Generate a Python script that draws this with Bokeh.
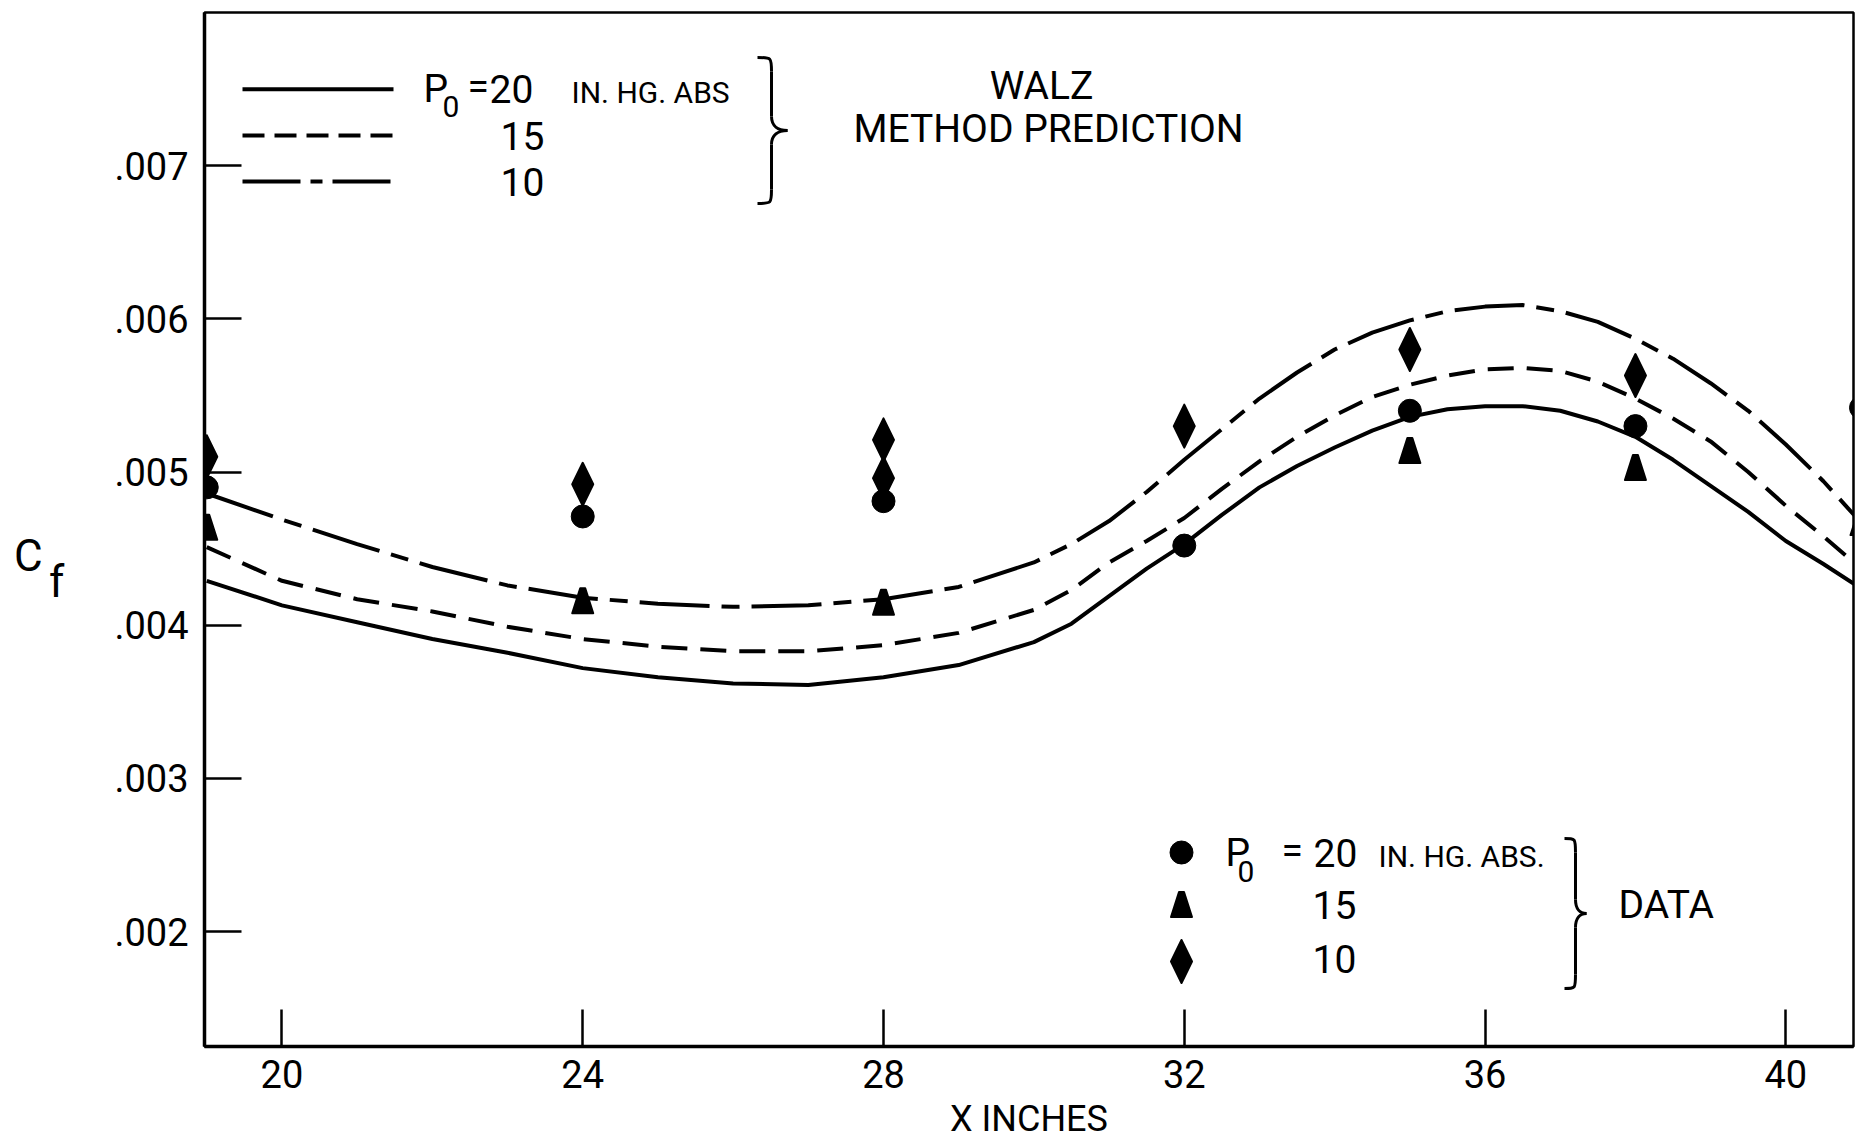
from bokeh.plotting import figure
from bokeh.models import Label, FixedTicker, CustomJSTickFormatter, Range1d
from bokeh.embed import file_html
from bokeh.resources import INLINE

# ---------------- data ----------------
x_curve = [19, 20, 21, 22, 23, 24, 25, 26, 27, 28, 29, 30, 30.5, 31, 31.5, 32, 32.5, 33, 33.5, 34, 34.5,
           35, 35.5, 36, 36.5, 37, 37.5, 38, 38.5, 39, 39.5, 40, 40.5, 41]
walz_20 = [.00429, .00413, .00402, .00391, .00382, .00372, .00366, .00362, .00361, .00366, .00374, .00389,
           .00401, .00419, .00437, .00453, .00472, .00490, .00504, .00516, .00527,
           .00536, .00541, .00543, .00543, .00540, .00533, .00523, .00508, .00491, .00474, .00455, .00440, .00424]
walz_15 = [.00451, .00429, .00417, .00409, .00399, .00391, .00386, .00383, .00383, .00387, .00395, .00410,
           .00423, .00441, .00455, .00470, .00489, .00507, .00523, .00537, .00549,
           .00557, .00563, .00567, .00568, .00566, .00559, .00548, .00535, .00520, .00500, .00478, .00458, .00437]
walz_10 = [.00486, .00469, .00453, .00438, .00426, .00418, .00414, .00412, .00413, .00417, .00425, .00441,
           .00453, .00468, .00487, .00508, .00528, .00548, .00565, .00580, .00591,
           .00599, .00605, .00608, .00609, .00605, .00598, .00587, .00574, .00558, .00540, .00518, .00494, .00467]

x_data_20 = [19, 24, 28, 32, 35, 38, 41]
cf_data_20 = [.00490, .00471, .00481, .00452, .00540, .00530, .00542]
x_data_15 = [19, 24, 28, 35, 38, 41]
cf_data_15 = [.00464, .00416, .00415, .00514, .00503, .00467]
x_data_10 = [19, 24, 28, 28, 32, 35, 38]
cf_data_10 = [.00510, .00492, .00521, .00496, .00530, .00580, .00563]

x_ticks = [20, 24, 28, 32, 36, 40]
y_ticks = [.002, .003, .004, .005, .006, .007]

# ---------------- layout ----------------
X0, X1 = 18.97, 40.9
Y0, Y1 = 0.00125, 0.008
FW, FH = 1649, 1034
L, T = 204, 12
FONT = "Roboto"


def X(px):
    return X0 + (px - L) * (X1 - X0) / FW


def Y(py):
    return Y1 - (py - T) * (Y1 - Y0) / FH


def dX(d):
    return d * (X1 - X0) / FW


def dY(d):
    return d * (Y1 - Y0) / FH


p = figure(width=1855, height=1144, min_border_left=L, min_border_right=2,
           min_border_top=T, min_border_bottom=1144 - T - FH,
           x_range=Range1d(X0, X1), y_range=Range1d(Y0, Y1),
           output_backend="svg", toolbar_location=None)
p.background_fill_color = "white"
p.border_fill_color = "white"
p.outline_line_color = "black"
p.outline_line_width = 2.5
p.xgrid.visible = False
p.ygrid.visible = False

for ax in (p.xaxis[0], p.yaxis[0]):
    ax.axis_line_color = "black"
    ax.axis_line_width = 3.5
    ax.major_tick_in = 37
    ax.major_tick_out = 0
    ax.major_tick_line_width = 2.5
    ax.major_tick_line_color = "black"
    ax.minor_tick_line_color = None
    ax.major_label_text_font = FONT
    ax.major_label_text_font_size = "38px"
    ax.major_label_text_color = "black"
    ax.axis_label_text_font = FONT
    ax.axis_label_text_font_style = "normal"
    ax.axis_label_text_color = "black"

xa = p.xaxis[0]
xa.ticker = FixedTicker(ticks=x_ticks)
xa.major_label_standoff = 13
xa.axis_label = "X INCHES"
xa.axis_label_text_font_size = "36px"
xa.axis_label_standoff = 7

ya = p.yaxis[0]
ya.ticker = FixedTicker(ticks=y_ticks)
ya.major_label_standoff = 16
ya.formatter = CustomJSTickFormatter(code="return tick.toFixed(3).substring(1);")
NB = "\u00a0"
ya.axis_label = "\n".join([NB, NB, NB, "C" + NB * 2, NB * 2 + "f"])
ya.axis_label_text_font_size = "44px"
ya.axis_label_text_line_height = 0.5
ya.axis_label_standoff = 47
try:
    ya.axis_label_orientation = "horizontal"
except Exception:
    pass

# ---------------- Walz curves ----------------
CURVE_W = 4
p.line(x_curve, walz_20, line_color="black", line_width=CURVE_W)
p.line(x_curve, walz_15, line_color="black", line_width=CURVE_W, line_dash="26 13")
p.line(x_curve, walz_10, line_color="black", line_width=CURVE_W, line_dash="70 12 18 12")


# ---------------- data markers ----------------
def tri_shapes(xs, ys):
    out_x, out_y = [], []
    for x, y in zip(xs, ys):
        out_x.append([x - dX(10.5), x + dX(10.5), x + dX(2.5), x - dX(2.5)])
        out_y.append([y - dY(12.5), y - dY(12.5), y + dY(12.5), y + dY(12.5)])
    return out_x, out_y


def dia_shapes(xs, ys):
    out_x, out_y = [], []
    for x, y in zip(xs, ys):
        out_x.append([x, x + dX(10.5), x, x - dX(10.5)])
        out_y.append([y + dY(21.5), y, y - dY(21.5), y])
    return out_x, out_y


p.scatter(x_data_20, cf_data_20, marker="circle", size=23, fill_color="black", line_color="black")
tx, ty = tri_shapes(x_data_15, cf_data_15)
p.patches(tx, ty, fill_color="black", line_color="black", line_width=2, line_join="round")
dx_, dy_ = dia_shapes(x_data_10, cf_data_10)
p.patches(dx_, dy_, fill_color="black", line_color="black", line_width=2, line_join="round")

# ---------------- legend: Walz method ----------------
lx0, lx1 = X(242), X(393)
p.line([lx0, lx1], [Y(88.7)] * 2, line_color="black", line_width=CURVE_W)
p.line([lx0, lx1], [Y(135)] * 2, line_color="black", line_width=CURVE_W, line_dash="22 10")
p.line([lx0, lx1], [Y(181)] * 2, line_color="black", line_width=CURVE_W, line_dash="58 10 12 10")

# legend: data markers
p.scatter([X(1181)], [Y(852)], marker="circle", size=23, fill_color="black", line_color="black")
tx, ty = tri_shapes([X(1181)], [Y(904)])
p.patches(tx, ty, fill_color="black", line_color="black", line_width=2, line_join="round")
dx_, dy_ = dia_shapes([X(1181)], [Y(961)])
p.patches(dx_, dy_, fill_color="black", line_color="black", line_width=2, line_join="round")


def lab(text, px, py, size, align="left"):
    py = py - 0.38 * size
    p.add_layout(Label(x=X(px), y=Y(py), text=text, text_font=FONT, text_font_size=f"{size}px",
                       text_align=align, text_baseline="alphabetic", text_color="black"))


BIG = 39
SMALL = 30
SUB = 30

# top legend texts
lab("P", 423, 103, BIG)
lab("0", 442, 117, SUB)
lab("=", 467, 101, BIG)
lab("20", 489, 103, BIG)
lab("IN. HG. ABS", 571, 103, SMALL)
lab("15", 522, 150, BIG, align="center")
lab("10", 522, 196, BIG, align="center")
lab("WALZ", 1041, 100, BIG, align="center")
lab("METHOD PREDICTION", 1048, 143, BIG, align="center")

# bottom legend texts
lab("P", 1225, 867, BIG)
lab("0", 1237, 882, SUB)
lab("=", 1281, 865, BIG)
lab("20", 1313, 867, BIG)
lab("IN. HG. ABS.", 1378, 867, SMALL)
lab("15", 1334, 919, BIG, align="center")
lab("10", 1334, 973, BIG, align="center")
lab("DATA", 1618, 919, BIG)


# ---------------- braces ----------------
def brace(xl, yt, yb, xs, xt, r=14):
    ym = (yt + yb) / 2.0
    b = dict(x0=[], y0=[], x1=[], y1=[], cx0=[], cy0=[], cx1=[], cy1=[])

    def add(p0, c0, c1, p1):
        b["x0"].append(X(p0[0])); b["y0"].append(Y(p0[1]))
        b["cx0"].append(X(c0[0])); b["cy0"].append(Y(c0[1]))
        b["cx1"].append(X(c1[0])); b["cy1"].append(Y(c1[1]))
        b["x1"].append(X(p1[0])); b["y1"].append(Y(p1[1]))

    add((xl, yt), (xs, yt), (xs, yt), (xs, yt + r))
    add((xs, ym - r), (xs, ym - r / 3.0), (xs + (xt - xs) * 0.4, ym), (xt, ym))
    add((xt, ym), (xs + (xt - xs) * 0.4, ym), (xs, ym + r / 3.0), (xs, ym + r))
    add((xs, yb - r), (xs, yb), (xs, yb), (xl, yb))
    p.bezier(line_color="black", line_width=3, **b)
    p.segment(x0=[X(xs), X(xs)], y0=[Y(yt + r), Y(ym + r)], x1=[X(xs), X(xs)], y1=[Y(ym - r), Y(yb - r)],
              line_color="black", line_width=3)


brace(757, 57, 203, 771, 787)
brace(1564, 838, 988, 1575, 1586)

open("out.html", "w").write(file_html(p, INLINE))
